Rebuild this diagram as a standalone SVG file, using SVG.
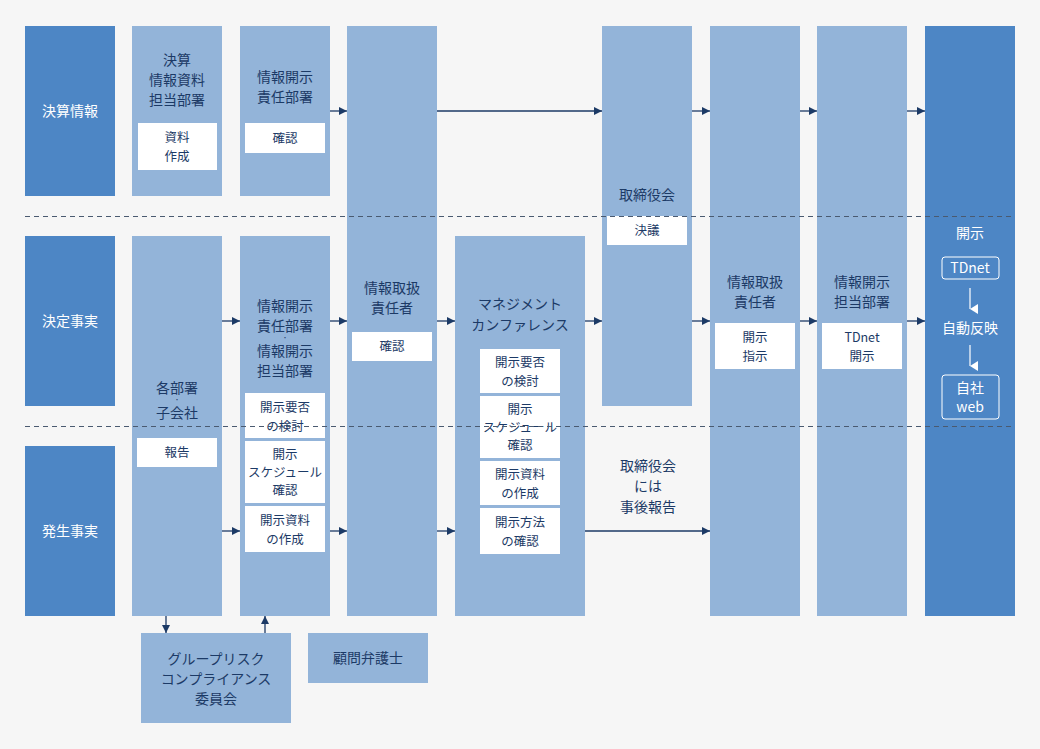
<svg xmlns="http://www.w3.org/2000/svg" width="1040" height="749" viewBox="0 0 1040 749">
<defs>
<style>
text{font-family:"Noto Sans CJK JP","Noto Sans",sans-serif;text-anchor:middle;fill:#1c3a66}
.t{font-size:14px}
.s{font-size:12.5px}
.w{fill:#fff}
.row{fill:#4d86c5}
.col{fill:#93b4d9}
.box{fill:#fff}
.ln{stroke:#1c3a66;stroke-width:1.3;fill:none}
.dash{stroke:#4a5a70;stroke-width:1;stroke-dasharray:5 4}
</style>
<marker id="a" markerWidth="8" markerHeight="8" refX="8" refY="4" orient="auto" markerUnits="userSpaceOnUse"><path d="M0,0L8,4L0,8Z" fill="#1c3a66"/></marker>
<marker id="aw" markerWidth="10" markerHeight="10" refX="5" refY="8" orient="auto" markerUnits="userSpaceOnUse"><path d="M0,0L10,0L5,8Z" fill="#fff"/></marker>
</defs>
<rect width="1040" height="749" fill="#f6f6f6"/>
<g id="row1"><rect class="row" x="25" y="26" width="90" height="170"/><text class="t w" x="70" y="116">決算情報</text></g>
<g id="row2"><rect class="row" x="25" y="236" width="90" height="170"/><text class="t w" x="70" y="326">決定事実</text></g>
<g id="row3"><rect class="row" x="25" y="446" width="90" height="170"/><text class="t w" x="70" y="536">発生事実</text></g>
<g id="kessan"><rect class="col" x="132" y="26" width="90" height="170"/><text class="t" x="177" y="65">決算</text><text class="t" x="177" y="85">情報資料</text><text class="t" x="177" y="105">担当部署</text><rect class="box" x="138" y="123" width="79" height="47"/><text class="s" x="177" y="142">資料</text><text class="s" x="177" y="161">作成</text></g>
<g id="sekinin1"><rect class="col" x="240" y="26" width="90" height="170"/><text class="t" x="285" y="82">情報開示</text><text class="t" x="285" y="102">責任部署</text><rect class="box" x="245" y="123" width="80" height="30"/><text class="s" x="285" y="143">確認</text></g>
<g id="toriatsukai1"><rect class="col" x="347" y="26" width="90" height="590"/><text class="t" x="392" y="293">情報取扱</text><text class="t" x="392" y="313">責任者</text><rect class="box" x="352" y="332" width="80" height="29"/><text class="s" x="392" y="351">確認</text></g>
<g id="mgmt"><rect class="col" x="455" y="236" width="130" height="380"/><text class="t" x="520" y="309">マネジメント</text><text class="t" x="520" y="330">カンファレンス</text>
<rect class="box" x="480" y="349" width="80" height="44"/><text class="s" x="520" y="367">開示要否</text><text class="s" x="520" y="386">の検討</text>
<rect class="box" x="480" y="396" width="80" height="62"/><text class="s" x="520" y="414">開示</text><text class="s" x="520" y="432">スケジュール</text><text class="s" x="520" y="450">確認</text>
<rect class="box" x="480" y="461" width="80" height="44"/><text class="s" x="520" y="479">開示資料</text><text class="s" x="520" y="498">の作成</text>
<rect class="box" x="480" y="508" width="80" height="46"/><text class="s" x="520" y="527">開示方法</text><text class="s" x="520" y="546">の確認</text></g>
<g id="torishimari"><rect class="col" x="602" y="26" width="90" height="380"/><text class="t" x="647" y="200">取締役会</text><rect class="box" x="607" y="216" width="80" height="29"/><text class="s" x="647" y="235">決議</text></g>
<g id="toriatsukai2"><rect class="col" x="710" y="26" width="90" height="590"/><text class="t" x="755" y="287">情報取扱</text><text class="t" x="755" y="307">責任者</text><rect class="box" x="715" y="323" width="80" height="46"/><text class="s" x="755" y="342">開示</text><text class="s" x="755" y="361">指示</text></g>
<g id="tanto"><rect class="col" x="817" y="26" width="90" height="590"/><text class="t" x="862" y="287">情報開示</text><text class="t" x="862" y="307">担当部署</text><rect class="box" x="822" y="323" width="80" height="46"/><text class="s" x="862" y="342">TDnet</text><text class="s" x="862" y="361">開示</text></g>
<g id="kaiji"><rect class="row" x="925" y="26" width="90" height="590"/><text class="t w" x="970" y="238">開示</text><rect x="942" y="257" width="57" height="22" rx="3" fill="none" stroke="#fff" stroke-width="1"/><text class="t w" x="970" y="273">TDnet</text>
<line x1="970" y1="288" x2="970" y2="309" stroke="#fff" stroke-width="1.2" marker-end="url(#aw)"/>
<text class="t w" x="970" y="333">自動反映</text>
<line x1="970" y1="345" x2="970" y2="366" stroke="#fff" stroke-width="1.2" marker-end="url(#aw)"/>
<rect x="942" y="375" width="57" height="44" rx="3" fill="none" stroke="#fff" stroke-width="1"/><text class="t w" x="970" y="393">自社</text><text class="t w" x="970" y="412">web</text></g>
<g id="kakubusho"><rect class="col" x="132" y="236" width="90" height="380"/><text class="t" x="177" y="393">各部署</text><text class="s" x="177" y="402" style="font-size:6px">・</text><text class="t" x="177" y="418">子会社</text><rect class="box" x="137" y="438" width="80" height="29"/><text class="s" x="177" y="457">報告</text></g>
<g id="sekinin2"><rect class="col" x="240" y="236" width="90" height="380"/><text class="t" x="285" y="311">情報開示</text><text class="t" x="285" y="331">責任部署</text><text x="285" y="340" style="font-size:6px">・</text><text class="t" x="285" y="356">情報開示</text><text class="t" x="285" y="376">担当部署</text>
<rect class="box" x="245" y="393" width="80" height="45"/><text class="s" x="285" y="412">開示要否</text><text class="s" x="285" y="431">の検討</text>
<rect class="box" x="245" y="441" width="80" height="62"/><text class="s" x="285" y="459">開示</text><text class="s" x="285" y="477">スケジュール</text><text class="s" x="285" y="495">確認</text>
<rect class="box" x="245" y="506" width="80" height="46"/><text class="s" x="285" y="525">開示資料</text><text class="s" x="285" y="544">の作成</text></g>
<g id="group"><rect class="col" x="141" y="633" width="150" height="90"/><text class="t" x="216" y="664">グループリスク</text><text class="t" x="216" y="684">コンプライアンス</text><text class="t" x="216" y="704">委員会</text></g>
<g id="bengoshi"><rect class="col" x="308" y="633" width="120" height="50"/><text class="t" x="368" y="663">顧問弁護士</text></g>
<g id="dashes"><line class="dash" x1="25" y1="216.5" x2="1015" y2="216.5"/><line class="dash" x1="25" y1="426.5" x2="1015" y2="426.5"/></g>
<g id="connectors" class="ln" marker-end="url(#a)">
<line x1="330" y1="111" x2="347" y2="111"/><line x1="437" y1="111" x2="602" y2="111"/><line x1="692" y1="111" x2="710" y2="111"/><line x1="800" y1="111" x2="817" y2="111"/><line x1="907" y1="111" x2="925" y2="111"/>
<line x1="222" y1="321" x2="240" y2="321"/><line x1="330" y1="321" x2="347" y2="321"/><line x1="437" y1="321" x2="455" y2="321"/><line x1="585" y1="321" x2="602" y2="321"/><line x1="692" y1="321" x2="710" y2="321"/><line x1="800" y1="321" x2="817" y2="321"/><line x1="907" y1="321" x2="925" y2="321"/>
<line x1="222" y1="531" x2="240" y2="531"/><line x1="330" y1="531" x2="347" y2="531"/><line x1="437" y1="531" x2="455" y2="531"/><line x1="585" y1="531" x2="710" y2="531"/>
<line x1="166" y1="616" x2="166" y2="633"/><line x1="265" y1="633" x2="265" y2="616"/>
</g>
<g id="note"><text class="t" x="648" y="471">取締役会</text><text class="t" x="648" y="491">には</text><text class="t" x="648" y="512">事後報告</text></g>
</svg>
